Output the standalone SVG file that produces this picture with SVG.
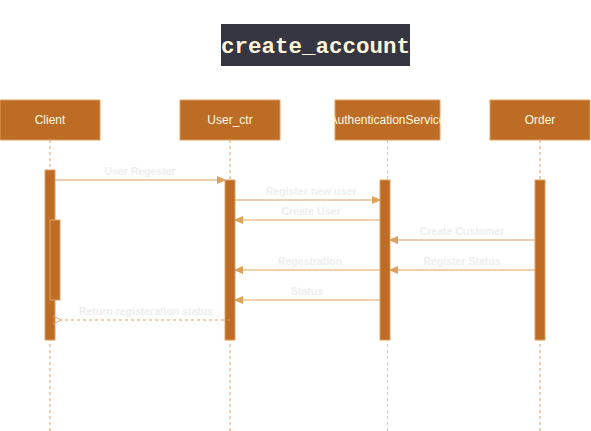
<svg xmlns="http://www.w3.org/2000/svg" width="591" height="431" viewBox="0 0 591 431">
<style>
.head{fill:#BC6C25;stroke:#DDA15E;stroke-width:1}
.headtxt{font-family:"Liberation Sans",Arial,sans-serif;font-size:12px;fill:#FEFAE0;text-anchor:middle}
.life{stroke:#DDA15E;stroke-width:1;stroke-dasharray:3,3;fill:none}
.act{fill:#BC6C25;stroke:#DDA15E;stroke-width:1}
.msg{stroke:#DDA15E;stroke-width:1;fill:none}
.ret{stroke:#DDA15E;stroke-width:1;fill:none;stroke-dasharray:3,3}
.lbl{font-family:"Liberation Sans",Arial,sans-serif;font-size:10.5px;font-weight:bold;fill:#EEEEEE;text-anchor:middle}
</style>
<defs>
<marker id="block" markerWidth="10" markerHeight="10" refX="8" refY="5" orient="auto" markerUnits="userSpaceOnUse">
<path d="M0,1.5 L8,5 L0,8.5 Z" fill="#DDA15E" stroke="#DDA15E"/>
</marker>
<marker id="open" markerWidth="12" markerHeight="12" refX="1" refY="6" orient="auto-start-reverse" markerUnits="userSpaceOnUse">
<path d="M9,2 L1,6 L9,10" fill="none" stroke="#DDA15E"/>
</marker>
</defs>
<rect width="591" height="431" fill="#FFFFFF"/>
<g id="title">
<rect x="221" y="24" width="189" height="42" fill="#363643"/>
<text x="315.5" y="53" font-family="'Liberation Mono','Courier New',monospace" font-size="22.5" font-weight="bold" fill="#FCF5D8" text-anchor="middle">create_account</text>
</g>
<g id="lifelines">
<line class="life" x1="50" y1="140" x2="50" y2="431"/>
<line class="life" x1="230" y1="140" x2="230" y2="431"/>
<line class="life" x1="387.5" y1="140" x2="387.5" y2="431" stroke-opacity="0.6"/>
<line class="life" x1="540" y1="140" x2="540" y2="431"/>
</g>
<g id="node-client">
<rect class="head" x="0" y="100" width="100" height="40"/>
<text class="headtxt" x="50" y="124">Client</text>
</g>
<g id="node-userctr">
<rect class="head" x="180" y="100" width="100" height="40"/>
<text class="headtxt" x="230" y="124">User_ctr</text>
</g>
<g id="node-auth">
<rect class="head" x="335" y="100" width="105" height="40"/>
<text class="headtxt" x="387.5" y="124">AuthenticationService</text>
</g>
<g id="node-order">
<rect class="head" x="490" y="100" width="100" height="40"/>
<text class="headtxt" x="540" y="124">Order</text>
</g>
<g id="activations">
<rect class="act" x="45" y="170" width="10" height="170"/>
<rect class="act" x="50" y="220" width="10" height="80"/>
<rect class="act" x="225" y="180" width="10" height="160"/>
<rect class="act" x="380" y="180" width="10" height="160"/>
<rect class="act" x="535" y="180" width="10" height="160"/>
</g>
<g id="connectors">
<line class="msg" x1="55" y1="180" x2="225" y2="180" marker-end="url(#block)"/>
<text class="lbl" x="140" y="175">User Regester</text>
<line class="msg" x1="235" y1="200" x2="380" y2="200" marker-end="url(#block)"/>
<text class="lbl" x="311" y="195">Register new user</text>
<line class="msg" x1="380" y1="220" x2="235" y2="220" marker-end="url(#block)"/>
<text class="lbl" x="311" y="215">Create User</text>
<line class="msg" x1="535" y1="240" x2="390" y2="240" marker-end="url(#block)"/>
<text class="lbl" x="462" y="235">Create Customer</text>
<line class="msg" x1="535" y1="270" x2="390" y2="270" marker-end="url(#block)"/>
<text class="lbl" x="462" y="265">Register Status</text>
<line class="msg" x1="380" y1="270" x2="235" y2="270" marker-end="url(#block)"/>
<text class="lbl" x="310" y="265">Regestration</text>
<line class="msg" x1="380" y1="300" x2="235" y2="300" marker-end="url(#block)"/>
<text class="lbl" x="307" y="295">Status</text>
<line class="ret" x1="230" y1="320" x2="61" y2="320" marker-end="url(#open)"/>
<text class="lbl" x="146" y="315">Return registeration status</text>
</g>
</svg>
